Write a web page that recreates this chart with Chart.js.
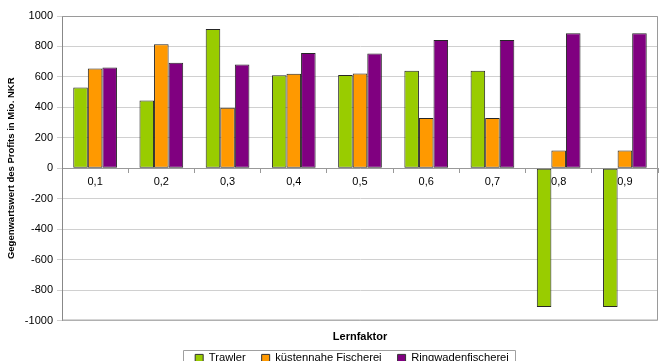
<!DOCTYPE html>
<html>
<head>
<meta charset="utf-8">
<script src="https://cdn.jsdelivr.net/npm/chart.js@4/dist/chart.umd.min.js"></script>
<style>
  html, body { margin: 0; padding: 0; background: #ffffff; }
  #wrap { width: 664px; height: 361px; }
</style>
</head>
<body>
<div id="wrap"><canvas id="c" width="664" height="361"></canvas></div>
<script>
// Lernfaktor categories
const categories = ['0,1', '0,2', '0,3', '0,4', '0,5', '0,6', '0,7', '0,8', '0,9'];

// Present value of profit (Mio. NKR) per fleet segment
const trawler = [531, 445, 915, 611, 612, 640, 640, -910, -910];
const kuestennah = [656, 815, 397, 620, 622, 330, 330, 117, 117];
const ringwaden = [662, 693, 682, 757, 754, 843, 843, 887, 887];

// Value axis ticks
const yMin = -1000;
const yMax = 1000;
const yStep = 200;

const FONT = 'Liberation Sans, Arial, sans-serif';

// Legend sits partly below the canvas edge; pull it up under the axis title
const LEGEND_SHIFT_Y = -7;
const LEGEND_SHIFT_X = -8;

const legendShift = {
  id: 'legendShift',
  afterLayout(chart) {
    const lg = chart.legend;
    if (!lg) return;
    lg.top += LEGEND_SHIFT_Y;
    lg.bottom += LEGEND_SHIFT_Y;
    lg.left += LEGEND_SHIFT_X;
    lg.right += LEGEND_SHIFT_X;
  }
};

// Grey frame around the plot area and a border around the legend
const framePlugin = {
  id: 'frame',
  afterDraw(chart) {
    const { ctx, chartArea: a } = chart;
    ctx.save();
    ctx.strokeStyle = '#9a9a9a';
    ctx.lineWidth = 1;
    ctx.beginPath();
    ctx.moveTo(a.left, a.top + 0.5);
    ctx.lineTo(a.right - 0.5, a.top + 0.5);
    ctx.lineTo(a.right - 0.5, a.bottom - 0.5);
    ctx.lineTo(a.left, a.bottom - 0.5);
    ctx.stroke();

    const boxes = chart.legend && chart.legend.legendHitBoxes;
    if (boxes && boxes.length) {
      const first = boxes[0];
      const last = boxes[boxes.length - 1];
      const x0 = Math.round(first.left - 12) + 0.5;
      const x1 = Math.round(last.left + last.width + 6) + 0.5;
      const y0 = Math.round(first.top - 3) + 0.5;
      ctx.strokeStyle = '#a0a0a0';
      ctx.beginPath();
      ctx.moveTo(x0, chart.height + 2);
      ctx.lineTo(x0, y0);
      ctx.lineTo(x1, y0);
      ctx.lineTo(x1, chart.height + 2);
      ctx.stroke();
    }
    ctx.restore();
  }
};

new Chart(document.getElementById('c'), {
  type: 'bar',
  data: {
    labels: categories,
    datasets: [
      { label: 'Trawler', data: trawler, backgroundColor: '#99cc00' },
      { label: 'küstennahe Fischerei', data: kuestennah, backgroundColor: '#ff9900' },
      { label: 'Ringwadenfischerei', data: ringwaden, backgroundColor: '#800080' }
    ]
  },
  options: {
    responsive: false,
    animation: false,
    devicePixelRatio: 1,
    layout: { padding: { left: 0, right: 6, top: 16, bottom: -20 } },
    datasets: {
      bar: {
        categoryPercentage: 0.66,
        barPercentage: 1.0,
        borderColor: '#262626',
        borderWidth: 1,
        borderSkipped: false
      }
    },
    scales: {
      x: {
        position: { y: 0 },
        z: 1,
        grid: { display: true, drawOnChartArea: false, drawTicks: true, tickLength: 4, color: '#999999', offset: true },
        border: { display: true, color: '#999999' },
        ticks: { color: '#000000', font: { family: FONT, size: 11 }, padding: 3, maxRotation: 0 }
      },
      y: {
        min: yMin,
        max: yMax,
        afterFit(scale) { scale.width = 62; },
        grid: { color: '#d0d0d0', tickLength: 5, drawTicks: true },
        border: { display: true, color: '#888888' },
        ticks: {
          stepSize: yStep,
          color: '#000000',
          font: { family: FONT, size: 11 },
          padding: 4,
          callback: (v) => String(v)
        },
        title: {
          display: true,
          text: 'Gegenwartswert des Profits in Mio. NKR',
          color: '#000000',
          font: { family: FONT, size: 9.5, weight: 'bold' },
          padding: { top: 6, bottom: 0 }
        }
      }
    },
    plugins: {
      tooltip: { enabled: false },
      title: {
        display: true,
        position: 'bottom',
        fullSize: false,
        weight: 500,
        text: 'Lernfaktor',
        color: '#000000',
        font: { family: FONT, size: 11, weight: 'bold' },
        padding: { top: 10, bottom: 0 }
      },
      legend: {
        display: true,
        position: 'bottom',
        fullSize: false,
        weight: 1000,
        labels: {
          boxWidth: 8,
          boxHeight: 8,
          color: '#000000',
          font: { family: FONT, size: 11.2 },
          padding: 16,
          generateLabels(chart) {
            return chart.data.datasets.map((ds, i) => ({
              text: ds.label,
              fillStyle: ds.backgroundColor,
              strokeStyle: '#333333',
              lineWidth: 1,
              hidden: false,
              datasetIndex: i
            }));
          }
        }
      }
    }
  },
  plugins: [legendShift, framePlugin]
});
</script>
</body>
</html>
